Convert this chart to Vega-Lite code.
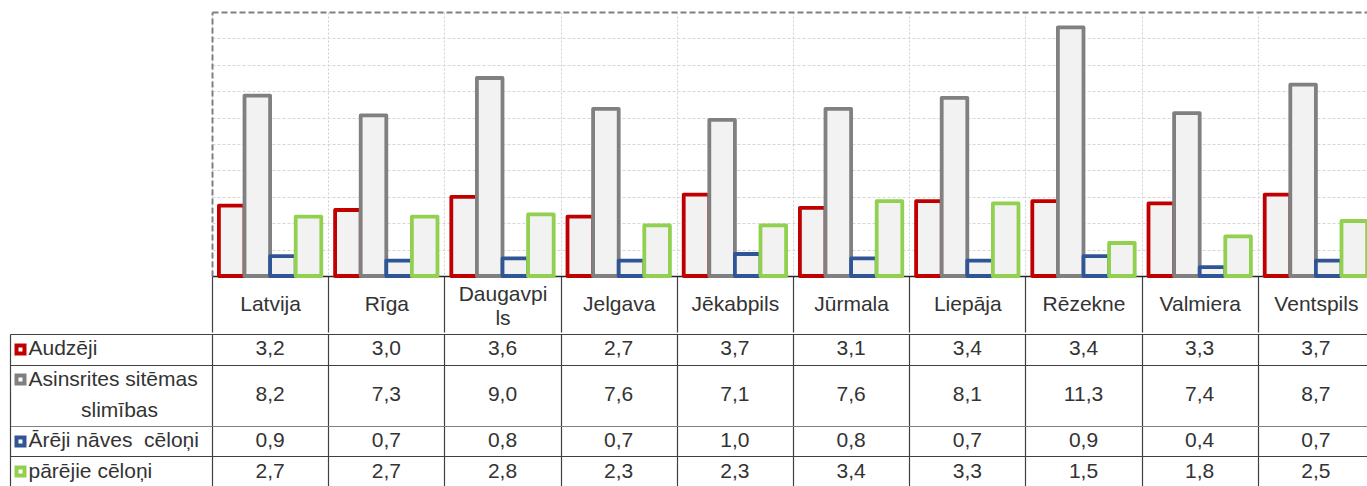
{
  "$schema": "https://vega.github.io/schema/vega-lite/v6.json",
  "padding": {"left": 8, "top": 12, "right": 0, "bottom": 0},
  "background": "white",
  "spacing": 0,
  "config": {
    "view": {"stroke": null},
    "font": "Liberation Sans",
    "locale": {"number": {"decimal": ",", "thousands": " ", "grouping": [3], "currency": ["", ""]}}
  },
  "data": {"values": [
    {"city": "Latvija", "cause": "Audzēji", "value": 3.2},
    {"city": "Rīga", "cause": "Audzēji", "value": 3.0},
    {"city": "Daugavpils", "cause": "Audzēji", "value": 3.6},
    {"city": "Jelgava", "cause": "Audzēji", "value": 2.7},
    {"city": "Jēkabpils", "cause": "Audzēji", "value": 3.7},
    {"city": "Jūrmala", "cause": "Audzēji", "value": 3.1},
    {"city": "Liepāja", "cause": "Audzēji", "value": 3.4},
    {"city": "Rēzekne", "cause": "Audzēji", "value": 3.4},
    {"city": "Valmiera", "cause": "Audzēji", "value": 3.3},
    {"city": "Ventspils", "cause": "Audzēji", "value": 3.7},
    {"city": "Latvija", "cause": "Asinsrites sitēmas slimības", "value": 8.2},
    {"city": "Rīga", "cause": "Asinsrites sitēmas slimības", "value": 7.3},
    {"city": "Daugavpils", "cause": "Asinsrites sitēmas slimības", "value": 9.0},
    {"city": "Jelgava", "cause": "Asinsrites sitēmas slimības", "value": 7.6},
    {"city": "Jēkabpils", "cause": "Asinsrites sitēmas slimības", "value": 7.1},
    {"city": "Jūrmala", "cause": "Asinsrites sitēmas slimības", "value": 7.6},
    {"city": "Liepāja", "cause": "Asinsrites sitēmas slimības", "value": 8.1},
    {"city": "Rēzekne", "cause": "Asinsrites sitēmas slimības", "value": 11.3},
    {"city": "Valmiera", "cause": "Asinsrites sitēmas slimības", "value": 7.4},
    {"city": "Ventspils", "cause": "Asinsrites sitēmas slimības", "value": 8.7},
    {"city": "Latvija", "cause": "Ārēji nāves cēloņi", "value": 0.9},
    {"city": "Rīga", "cause": "Ārēji nāves cēloņi", "value": 0.7},
    {"city": "Daugavpils", "cause": "Ārēji nāves cēloņi", "value": 0.8},
    {"city": "Jelgava", "cause": "Ārēji nāves cēloņi", "value": 0.7},
    {"city": "Jēkabpils", "cause": "Ārēji nāves cēloņi", "value": 1.0},
    {"city": "Jūrmala", "cause": "Ārēji nāves cēloņi", "value": 0.8},
    {"city": "Liepāja", "cause": "Ārēji nāves cēloņi", "value": 0.7},
    {"city": "Rēzekne", "cause": "Ārēji nāves cēloņi", "value": 0.9},
    {"city": "Valmiera", "cause": "Ārēji nāves cēloņi", "value": 0.4},
    {"city": "Ventspils", "cause": "Ārēji nāves cēloņi", "value": 0.7},
    {"city": "Latvija", "cause": "pārējie cēloņi", "value": 2.7},
    {"city": "Rīga", "cause": "pārējie cēloņi", "value": 2.7},
    {"city": "Daugavpils", "cause": "pārējie cēloņi", "value": 2.8},
    {"city": "Jelgava", "cause": "pārējie cēloņi", "value": 2.3},
    {"city": "Jēkabpils", "cause": "pārējie cēloņi", "value": 2.3},
    {"city": "Jūrmala", "cause": "pārējie cēloņi", "value": 3.4},
    {"city": "Liepāja", "cause": "pārējie cēloņi", "value": 3.3},
    {"city": "Rēzekne", "cause": "pārējie cēloņi", "value": 1.5},
    {"city": "Valmiera", "cause": "pārējie cēloņi", "value": 1.8},
    {"city": "Ventspils", "cause": "pārējie cēloņi", "value": 2.5}
  ]},
  "vconcat": [
    {
      "width": 1162,
      "height": 264,
      "mark": {"type": "bar", "fill": "#F2F2F2", "strokeWidth": 3.8, "strokeJoin": "round"},
      "encoding": {
        "x": {
          "field": "city", "type": "nominal",
          "scale": {"domain": ["Latvija", "Rīga", "Daugavpils", "Jelgava", "Jēkabpils", "Jūrmala", "Liepāja", "Rēzekne", "Valmiera", "Ventspils"], "paddingInner": 0, "paddingOuter": 0},
          "axis": {
            "orient": "bottom", "title": null, "tickBand": "extent",
            "domain": true, "domainColor": "#262626", "domainWidth": 1.5,
            "ticks": true, "tickSize": 56, "tickColor": "#404040", "tickWidth": 1.2,
            "labelPadding": -28, "labelFontSize": 21, "labelColor": "#333333",
            "labelBaseline": {"condition": {"test": "datum.value === 'Daugavpils'", "value": "bottom"}, "value": "middle"},
            "labelAngle": 0, "labelOverlap": false, "labelBound": false, "labelLineHeight": 24,
            "labelExpr": "datum.value === 'Daugavpils' ? ['Daugavpi', 'ls'] : datum.value",
            "grid": true, "gridColor": "#CFCFCF", "gridDash": [2, 2]
          }
        },
        "xOffset": {
          "field": "cause", "type": "nominal",
          "scale": {"domain": ["Audzēji", "Asinsrites sitēmas slimības", "Ārēji nāves cēloņi", "pārējie cēloņi"], "paddingInner": 0, "paddingOuter": 0.27}
        },
        "y": {
          "field": "value", "type": "quantitative",
          "scale": {"domain": [0, 12], "nice": false, "zero": true},
          "axis": {
            "title": null, "labels": false, "ticks": false,
            "domain": true, "domainDash": [6, 3], "domainColor": "#808080", "domainWidth": 2,
            "grid": true, "values": [1.2, 2.4, 3.6, 4.8, 6, 7.2, 8.4, 9.6, 10.8, 12],
            "gridColor": {"condition": {"test": "datum.value === 12", "value": "#808080"}, "value": "#D6D6D6"},
            "gridDash": {"condition": {"test": "datum.value === 12", "value": [6, 3]}, "value": [3, 2]},
            "gridWidth": {"condition": {"test": "datum.value === 12", "value": 2}, "value": 1}
          }
        },
        "stroke": {
          "field": "cause", "type": "nominal",
          "scale": {"domain": ["Audzēji", "Asinsrites sitēmas slimības", "Ārēji nāves cēloņi", "pārējie cēloņi"], "range": ["#C00000", "#808080", "#2F5597", "#92D050"]},
          "legend": null
        }
      }
    },
    {
      "width": 1162,
      "height": 153,
      "resolve": {"axis": {"y": "independent"}},
      "layer": [
        {
          "transform": [{"filter": "datum.cause !== 'Asinsrites sitēmas slimības'"}],
          "mark": {"type": "text", "fontSize": 21, "color": "#333333", "baseline": "middle", "align": "center"},
          "encoding": {
            "x": {
              "field": "city", "type": "nominal",
              "scale": {"domain": ["Latvija", "Rīga", "Daugavpils", "Jelgava", "Jēkabpils", "Jūrmala", "Liepāja", "Rēzekne", "Valmiera", "Ventspils"], "paddingInner": 0, "paddingOuter": 0},
              "axis": {"orient": "bottom", "title": null, "labels": false, "ticks": false, "domain": false, "grid": true, "tickBand": "extent", "gridColor": "#404040", "gridWidth": 1.2}
            },
            "y": {
              "field": "cause", "type": "nominal",
              "scale": {"domain": ["Audzēji", "Asinsrites sitēmas slimības", "_2", "Ārēji nāves cēloņi", "pārējie cēloņi"], "paddingInner": 0, "paddingOuter": 0},
              "axis": {
                "orient": "left", "offset": 202, "title": null, "labels": false,
                "domain": true, "domainColor": "#404040", "domainWidth": 1.2,
                "ticks": true, "tickSize": -202, "tickWidth": 1.2, "tickBand": "extent",
                "tickColor": {"condition": {"test": "datum.value === '_2'", "value": "#808080"}, "value": "#404040"},
                "tickOpacity": {"condition": {"test": "datum.value === 'Asinsrites sitēmas slimības'", "value": 0}, "value": 1},
                "grid": true, "gridWidth": 1.2,
                "gridColor": {"condition": {"test": "datum.value === '_2'", "value": "#808080"}, "value": "#404040"},
                "gridOpacity": {"condition": {"test": "datum.value === 'Asinsrites sitēmas slimības'", "value": 0}, "value": 1}
              }
            },
            "text": {"field": "value", "type": "quantitative", "format": ".1f"}
          }
        },
        {
          "transform": [{"filter": "datum.cause === 'Asinsrites sitēmas slimības'"}],
          "mark": {"type": "text", "fontSize": 21, "color": "#333333", "baseline": "middle", "align": "center"},
          "encoding": {
            "x": {
              "field": "city", "type": "nominal",
              "scale": {"domain": ["Latvija", "Rīga", "Daugavpils", "Jelgava", "Jēkabpils", "Jūrmala", "Liepāja", "Rēzekne", "Valmiera", "Ventspils"], "paddingInner": 0, "paddingOuter": 0},
              "axis": {"orient": "bottom", "title": null, "labels": false, "ticks": false, "domain": false, "grid": true, "tickBand": "extent", "gridColor": "#404040", "gridWidth": 1.2}
            },
            "y": {
              "field": "cause", "type": "nominal", "bandPosition": 1,
              "scale": {"domain": ["Audzēji", "Asinsrites sitēmas slimības", "_2", "Ārēji nāves cēloņi", "pārējie cēloņi"], "paddingInner": 0, "paddingOuter": 0},
              "axis": {
                "orient": "left", "offset": 186, "title": null, "domain": false, "grid": false,
                "ticks": true, "tickSize": 12, "tickWidth": 12,
                "tickColor": {"condition": [
                  {"test": "datum.value === 'Audzēji'", "value": "#C00000"},
                  {"test": "datum.value === 'Ārēji nāves cēloņi'", "value": "#2F5597"},
                  {"test": "datum.value === 'pārējie cēloņi'", "value": "#92D050"}
                ], "value": "#808080"},
                "tickOpacity": {"condition": {"test": "datum.value === '_2'", "value": 0}, "value": 1},
                "labelAlign": "left", "labelPadding": -14, "labelFontSize": 21, "labelColor": "#333333", "labelBaseline": "middle",
                "labelLimit": 0,
                "labelExpr": "datum.value === 'Asinsrites sitēmas slimības' ? 'Asinsrites sitēmas' : datum.value === '_2' ? '\u200b\u00a0\u00a0\u00a0\u00a0\u00a0\u00a0\u00a0\u00a0\u00a0slimības' : datum.value === 'Ārēji nāves cēloņi' ? 'Ārēji nāves\u00a0 cēloņi' : datum.value"
              }
            },
            "text": {"field": "value", "type": "quantitative", "format": ".1f"}
          }
        },
        {
          "transform": [{"filter": "false"}],
          "mark": {"type": "text"},
          "encoding": {
            "y": {
              "field": "cause", "type": "nominal",
              "scale": {"domain": ["Audzēji", "Asinsrites sitēmas slimības", "_2", "Ārēji nāves cēloņi", "pārējie cēloņi"], "paddingInner": 0, "paddingOuter": 0},
              "axis": {
                "orient": "left", "offset": 190, "title": null, "domain": false, "grid": false, "labels": false,
                "ticks": true, "tickSize": 4, "tickWidth": 4, "tickColor": "#FFFFFF", "zindex": 1,
                "tickOpacity": {"condition": {"test": "datum.value === '_2'", "value": 0}, "value": 1}
              }
            }
          }
        }
      ]
    }
  ]
}
